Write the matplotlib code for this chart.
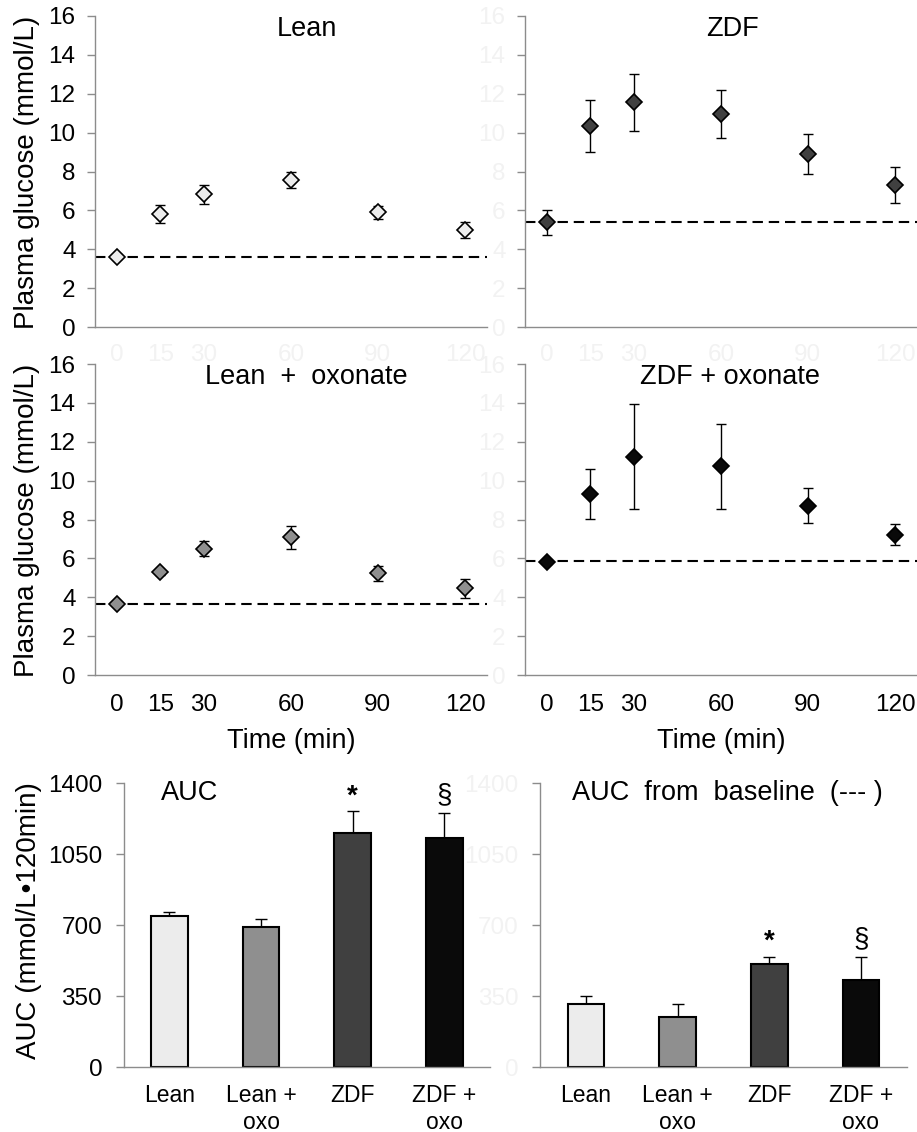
import matplotlib
matplotlib.use('Agg')
import matplotlib.pyplot as plt
import numpy as np

plt.rcParams['font.family'] = ['Liberation Sans', 'DejaVu Sans']

# time course data (mmol/L)
times = [0, 15, 30, 60, 90, 120]
lean = [3.62, 5.81, 6.83, 7.56, 5.90, 4.99]
lean_err = [0.12, 0.45, 0.50, 0.42, 0.35, 0.40]
zdf = [5.38, 10.34, 11.57, 10.96, 8.90, 7.30]
zdf_err = [0.63, 1.35, 1.47, 1.22, 1.05, 0.92]
lean_oxo = [3.66, 5.29, 6.50, 7.09, 5.24, 4.46]
lean_oxo_err = [0.10, 0.12, 0.38, 0.60, 0.38, 0.50]
zdf_oxo = [5.80, 9.32, 11.24, 10.73, 8.70, 7.22]
zdf_oxo_err = [0.08, 1.30, 2.70, 2.20, 0.90, 0.53]
baselines = [3.62, 5.42, 3.64, 5.85]

# AUC data
groups = ['Lean', 'Lean +\noxo', 'ZDF', 'ZDF +\noxo']
auc = [746, 690, 1156, 1130]
auc_err = [18, 41, 108, 122]
auc_base = [312, 249, 509, 430]
auc_base_err = [39, 61, 36, 115]
auc_marks = ['', '', '*', '§']

colors = ['#ececec', '#8f8f8f', '#404040', '#0a0a0a']
spine_col = '#8c8c8c'
ghost = '#f2f2f2'

fig = plt.figure(figsize=(9.17, 11.32), dpi=100)
H = 1132.0
W = 917.0

def box(l, r, t, b):
    return [l / W, 1 - b / H, (r - l) / W, (b - t) / H]

def style(ax):
    for s in ['top', 'right']:
        ax.spines[s].set_visible(False)
    for s in ['left', 'bottom']:
        ax.spines[s].set_color(spine_col)
        ax.spines[s].set_linewidth(1.0)

panels = [
    (box(95, 487, 16, 327), lean, lean_err, colors[0], 'Lean', 0.541, True, False),
    (box(525, 917, 16, 327), zdf, zdf_err, colors[2], 'ZDF', 0.529, False, False),
    (box(95, 487, 364, 675), lean_oxo, lean_oxo_err, colors[1], 'Lean  +  oxonate', 0.538, True, True),
    (box(525, 917, 364, 675), zdf_oxo, zdf_oxo_err, colors[3], 'ZDF + oxonate', 0.523, False, True),
]

for i, (rect, vals, errs, col, title, tx, yl, xl) in enumerate(panels):
    ax = fig.add_axes(rect)
    style(ax)
    ax.axhline(baselines[i], color='black', lw=1.5, ls=(0, (5, 2.8)), zorder=1)
    ax.errorbar(times, vals, yerr=errs, fmt='none', ecolor='black',
                elinewidth=1.0, capsize=3.5, capthick=1.0, zorder=2)
    ax.plot(times, vals, 'D', ms=8.5, mfc=col, mec='black', mew=1.2, zorder=3)
    ax.set_xlim(-7.5, 127.6)
    ax.set_ylim(0, 16)
    ax.set_yticks(np.arange(0, 17, 2))
    ax.set_xticks(times)
    ax.tick_params(axis='y', direction='out', length=5.5, width=1.0,
                   color=spine_col, pad=8.5, labelsize=17.5,
                   labelcolor='black' if yl else ghost)
    ax.tick_params(axis='x', length=0, pad=14 if xl else 12, labelsize=17.5,
                   labelcolor='black' if xl else ghost)
    ax.text(tx, 0.958, title, transform=ax.transAxes, ha='center',
            va='center', fontsize=19.5)
    if xl:
        ax.set_xlabel('Time (min)', fontsize=19.5, labelpad=8)

fig.text(27 / W, 1 - 172 / H, 'Plasma glucose (mmol/L)', rotation=90,
         ha='center', va='center', fontsize=20)
fig.text(27 / W, 1 - 520 / H, 'Plasma glucose (mmol/L)', rotation=90,
         ha='center', va='center', fontsize=20)

bar_panels = [
    (box(123.7, 490, 783.3, 1067.3), auc, auc_err, 'AUC', 0.181, True,
     [1334, 1342]),
    (box(540, 906.7, 783.3, 1067.3), auc_base, auc_base_err,
     'AUC  from  baseline  (--- )', 0.511, False, [619, 631]),
]

x = np.arange(len(groups))
for rect, vals, errs, title, tx, yl, mark_y in bar_panels:
    ax = fig.add_axes(rect)
    style(ax)
    ax.bar(x, vals, width=0.4, color=colors, edgecolor='black', lw=1.5,
           zorder=2)
    ax.errorbar(x, vals, yerr=[np.zeros(len(vals)), errs], fmt='none',
                ecolor='black', elinewidth=1.0, capsize=4, capthick=1.0,
                zorder=1)
    ax.set_xlim(-0.5, 3.5)
    ax.set_ylim(0, 1400)
    ax.set_yticks([0, 350, 700, 1050, 1400])
    ax.set_xticks(x)
    ax.set_xticklabels(groups, fontsize=16.5, linespacing=1.2)
    ax.tick_params(axis='x', length=0, pad=12)
    ax.tick_params(axis='y', direction='out', length=5.5, width=1.0,
                   color=spine_col, pad=10, labelsize=17.5,
                   labelcolor='black' if yl else ghost)
    ax.text(tx, 0.967, title, transform=ax.transAxes, ha='center',
            va='center', fontsize=19.5)
    for j in range(2, 4):
        ax.text(x[j], mark_y[j - 2], auc_marks[j], ha='center', va='center',
                fontsize=20, fontweight='bold' if auc_marks[j] == '*' else 'normal')

fig.text(29 / W, 1 - 921 / H, 'AUC (mmol/L\u2022120min)', rotation=90,
         ha='center', va='center', fontsize=20)

fig.savefig('out.png', dpi=100)
